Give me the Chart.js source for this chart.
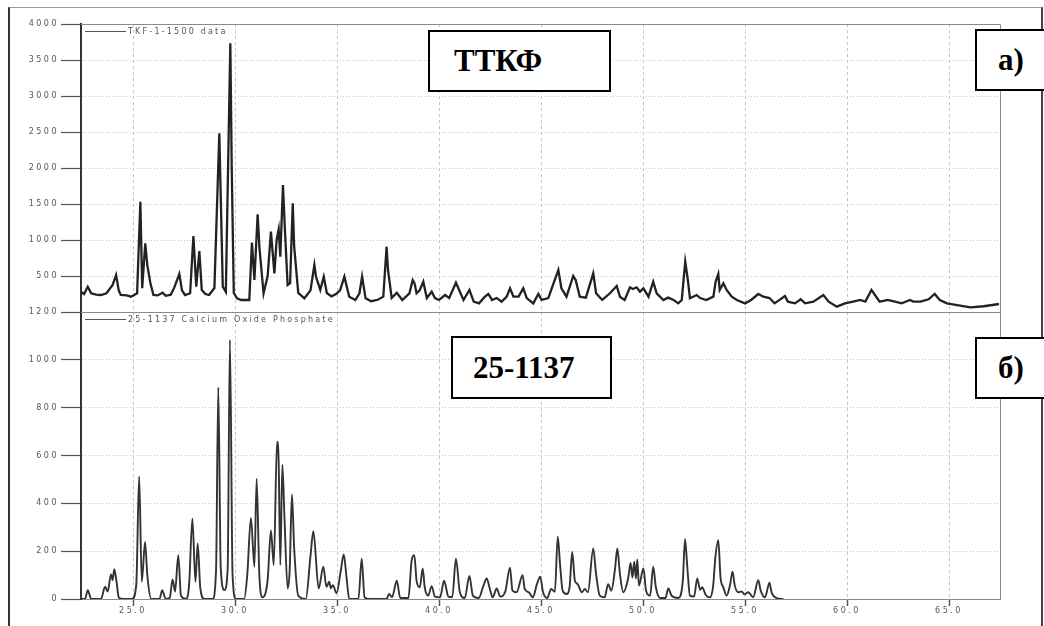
<!DOCTYPE html>
<html>
<head>
<meta charset="utf-8">
<script src="https://cdn.jsdelivr.net/npm/chart.js@4.4.1/dist/chart.umd.min.js"></script>
<style>
  body { margin: 0; background: #fff; }
  #hoja { position: relative; width: 1044px; height: 626px; overflow: hidden; background: #fff; }
  #marco { position: absolute; left: 8px; top: 7px; width: 1031px; height: 700px;
           border-left: 2px solid #333; border-top: 1px solid #999; border-right: 2px solid #444; }
  canvas { position: absolute; left: 0; }
  #top { top: 0; }
  #bot { top: 300px; }
  .caja { position: absolute; background: #fff; border: 2px solid #000; box-sizing: border-box;
          font-family: "Liberation Serif", "Times New Roman", serif; font-weight: bold;
          font-size: 31px; color: #000; display: flex; align-items: center; }
</style>
</head>
<body>
<div id="hoja">
  <div id="marco"></div>
  <canvas id="top" width="1044" height="330"></canvas>
  <canvas id="bot" width="1044" height="326"></canvas>
  <div class="caja" style="left:428px;top:30px;width:183px;height:62px;padding-left:24px">ТТКФ</div>
  <div class="caja" style="left:975px;top:29px;width:90px;height:62px;padding-left:21px">а)</div>
  <div class="caja" style="left:451px;top:336px;width:161px;height:63px;padding-left:20px">25-1137</div>
  <div class="caja" style="left:975px;top:337px;width:90px;height:62px;padding-left:21px">б)</div>
</div>
<script>
// 2theta range and ticks
const X_MIN = 22.45;
const X_MAX = 67.5;
const xTicks = [25, 30, 35, 40, 45, 50, 55, 60, 65];
const topTicks = [500, 1000, 1500, 2000, 2500, 3000, 3500, 4000];
const refTicks = [0, 200, 400, 600, 800, 1000, 1200];

const topAngle = [22.45, 22.6, 22.78, 22.95, 23.2, 23.43, 23.7, 24.0, 24.17, 24.3, 24.4, 24.7, 24.9, 25.2, 25.36, 25.45, 25.6, 25.7, 25.85, 26.0,
  26.2, 26.45, 26.6, 26.85, 27.02, 27.27, 27.4, 27.55, 27.8, 27.96, 28.1, 28.25, 28.37, 28.55, 28.73, 28.99, 29.23, 29.4, 29.55, 29.77,
  29.84, 29.94, 30.1, 30.3, 30.7, 30.83, 30.95, 31.11, 31.2, 31.4, 31.6, 31.76, 31.93, 32.04, 32.14, 32.22, 32.35, 32.45, 32.58, 32.7,
  32.83, 32.9, 33.1, 33.4, 33.7, 33.89, 33.97, 34.18, 34.35, 34.5, 34.73, 34.95, 35.15, 35.36, 35.6, 35.9, 36.1, 36.23, 36.4, 36.67,
  37.0, 37.27, 37.43, 37.5, 37.68, 37.93, 38.2, 38.55, 38.71, 38.8, 38.9, 39.05, 39.23, 39.4, 39.64, 39.8, 40.0, 40.3, 40.5, 40.83,
  40.95, 41.2, 41.49, 41.7, 41.96, 42.25, 42.42, 42.6, 42.83, 43.07, 43.32, 43.48, 43.65, 43.9, 44.13, 44.3, 44.62, 44.87, 45.03, 45.36,
  45.5, 45.85, 46.0, 46.25, 46.58, 46.7, 46.9, 47.2, 47.56, 47.7, 48.0, 48.38, 48.71, 48.87, 49.1, 49.36, 49.5, 49.69, 49.85, 50.02,
  50.27, 50.5, 50.67, 51.0, 51.23, 51.5, 51.73, 51.9, 52.07, 52.2, 52.3, 52.63, 52.8, 53.1, 53.45, 53.56, 53.69, 53.76, 53.94, 54.1,
  54.35, 54.6, 55.0, 55.3, 55.65, 55.9, 56.2, 56.45, 56.96, 57.1, 57.45, 57.73, 57.95, 58.35, 58.84, 59.1, 59.5, 59.9, 60.3, 60.65,
  60.9, 61.2, 61.37, 61.6, 62.0, 62.35, 62.68, 63.09, 63.25, 63.6, 64.0, 64.3, 64.55, 64.9, 65.4, 66.05, 66.7, 67.45];
const topCounts = [280, 250, 350, 260, 240, 236, 260, 375, 514, 300, 236, 230, 213, 260, 1532, 330, 954, 650, 403, 236,
  230, 268, 225, 240, 338, 528, 300, 236, 260, 1056, 351, 847, 306, 250, 236, 333, 2482, 351, 280, 3732,
  1972, 264, 190, 167, 167, 963, 444, 1357, 884, 260, 500, 1116, 537, 1000, 1148, 768, 1764, 1116, 375, 400,
  1509, 907, 264, 190, 300, 653, 491, 306, 491, 264, 217, 250, 300, 491, 213, 167, 260, 491, 190, 150,
  170, 213, 907, 583, 194, 268, 167, 260, 444, 398, 260, 300, 421, 194, 282, 194, 167, 236, 194, 407,
  330, 167, 306, 144, 120, 213, 250, 167, 194, 144, 213, 329, 213, 213, 329, 194, 120, 250, 167, 194,
  306, 583, 329, 213, 500, 444, 213, 200, 537, 260, 167, 260, 361, 213, 167, 343, 320, 343, 282, 329,
  213, 421, 260, 167, 200, 167, 120, 167, 699, 444, 190, 236, 194, 167, 213, 421, 528, 306, 398, 306,
  213, 167, 120, 167, 250, 213, 194, 120, 222, 144, 120, 176, 120, 144, 236, 144, 74, 120, 144, 167,
  144, 306, 236, 144, 167, 144, 120, 167, 144, 144, 176, 250, 167, 120, 97, 65, 80, 111];

// reference card 25-1137 Calcium Oxide Phosphate
const refAngle = [22.45, 22.65, 22.78, 22.95, 23.43, 23.63, 23.76, 23.92, 24.0, 24.08, 24.2, 24.3, 24.5, 24.95, 25.16, 25.3, 25.43, 25.59, 25.7, 25.9,
  26.3, 26.43, 26.6, 26.8, 26.94, 27.06, 27.22, 27.35, 27.6, 27.75, 27.91, 28.06, 28.17, 28.3, 28.5, 28.9, 29.07, 29.18, 29.3, 29.48,
  29.64, 29.75, 29.88, 30.05, 30.45, 30.6, 30.78, 30.95, 31.06, 31.19, 31.35, 31.6, 31.76, 31.9, 32.06, 32.14, 32.22, 32.32, 32.42, 32.58,
  32.68, 32.79, 32.9, 33.1, 33.47, 33.7, 33.84, 34.1, 34.33, 34.48, 34.62, 34.7, 34.8, 34.98, 35.17, 35.33, 35.46, 35.6, 36.05, 36.21,
  36.35, 36.6, 37.43, 37.55, 37.7, 37.93, 38.1, 38.5, 38.66, 38.79, 38.9, 39.06, 39.2, 39.3, 39.47, 39.64, 39.8, 40.05, 40.25, 40.46,
  40.65, 40.83, 41.02, 41.26, 41.49, 41.66, 41.94, 42.18, 42.34, 42.47, 42.63, 42.83, 43.0, 43.25, 43.48, 43.6, 43.8, 44.1, 44.2, 44.4,
  44.6, 44.8, 44.96, 45.1, 45.3, 45.5, 45.68, 45.82, 45.93, 46.06, 46.25, 46.4, 46.53, 46.66, 46.8, 47.0, 47.15, 47.3, 47.56, 47.7,
  47.88, 48.12, 48.29, 48.45, 48.63, 48.74, 48.87, 49.03, 49.28, 49.39, 49.48, 49.57, 49.65, 49.72, 49.8, 50.02, 50.15, 50.35, 50.5, 50.63,
  50.84, 51.1, 51.24, 51.4, 51.73, 51.95, 52.06, 52.17, 52.3, 52.5, 52.66, 52.8, 52.9, 53.07, 53.27, 53.43, 53.55, 53.69, 53.8, 53.94,
  54.1, 54.26, 54.39, 54.5, 54.67, 54.83, 54.97, 55.16, 55.4, 55.65, 55.77, 55.98, 56.2, 56.3, 56.55, 56.88];
const refCounts = [0, 0, 37, 0, 0, 51, 31, 103, 79, 125, 67, 7, 0, 0, 60, 512, 72, 239, 100, 0,
  0, 37, 0, 5, 82, 31, 183, 14, 0, 60, 336, 72, 232, 44, 0, 0, 120, 885, 130, 37,
  128, 1083, 100, 0, 0, 100, 339, 135, 503, 104, 7, 80, 287, 142, 658, 572, 142, 562, 350, 44,
  120, 437, 211, 14, 0, 180, 283, 44, 135, 51, 72, 45, 58, 24, 110, 186, 96, 0, 0, 169,
  7, 0, 0, 21, 8, 76, 4, 4, 162, 183, 76, 49, 128, 49, 14, 54, 10, 7, 76, 10,
  8, 169, 28, 4, 96, 14, 4, 56, 86, 49, 7, 44, 10, 32, 131, 35, 28, 100, 42, 28,
  7, 62, 93, 28, 4, 42, 30, 260, 149, 35, 21, 49, 197, 76, 62, 28, 42, 28, 211, 104,
  14, 7, 62, 35, 128, 211, 104, 28, 90, 151, 90, 156, 85, 165, 56, 128, 35, 14, 135, 49,
  4, 4, 44, 14, 4, 76, 250, 135, 14, 10, 86, 38, 49, 18, 7, 49, 176, 246, 90, 49,
  14, 56, 114, 56, 28, 32, 20, 28, 7, 79, 35, 7, 68, 28, 4, 0];

const fuente = { family: 'DejaVu Sans', size: 8 };
const gris = '#555';

// wide, spaced-out lettering like the diffractometer printout
const espaciado = {
  id: 'espaciado',
  beforeDraw(chart) { chart.ctx.letterSpacing = '2.5px'; }
};

// thin frame on top and right of the plot + small legend line
const marcoPlot = {
  id: 'marcoPlot',
  afterDatasetsDraw(chart) {
    const { ctx, chartArea: a } = chart;
    ctx.save();
    ctx.strokeStyle = '#8a8a8a';
    ctx.lineWidth = 1;
    ctx.beginPath();
    ctx.moveTo(a.left, a.top + 0.5);
    ctx.lineTo(a.right + 0.5, a.top + 0.5);
    ctx.lineTo(a.right + 0.5, a.bottom);
    ctx.stroke();

    const ly = a.top + 7.5;
    ctx.strokeStyle = gris;
    ctx.beginPath();
    ctx.moveTo(a.left + 4, ly);
    ctx.lineTo(a.left + 45, ly);
    ctx.stroke();
    ctx.letterSpacing = '2.2px';
    ctx.font = '8px "DejaVu Sans"';
    ctx.fillStyle = gris;
    ctx.textBaseline = 'middle';
    ctx.fillText(chart.data.datasets[0].label, a.left + 47, ly);
    ctx.restore();
  }
};

const ejeX = (conEtiquetas) => ({
  type: 'linear',
  min: X_MIN,
  max: X_MAX,
  afterBuildTicks: (s) => { s.ticks = xTicks.map(v => ({ value: v })); },
  afterFit: (s) => { s.height = conEtiquetas ? 27 : 0; },
  grid: { color: '#c4c4c4', drawTicks: conEtiquetas, tickLength: 7, tickColor: gris, tickWidth: 1.5 },
  border: { display: true, color: '#8a8a8a', width: 1, dash: [3, 3] },
  ticks: { display: conEtiquetas, padding: 0, color: gris, font: fuente, maxRotation: 0, autoSkip: false,
           callback: (v) => v.toFixed(1) }
});

const ejeY = (max, ticks) => ({
  min: 0,
  max: max,
  afterBuildTicks: (s) => { s.ticks = ticks.map(v => ({ value: v })); },
  afterFit: (s) => { s.width = 81; },
  grid: { color: '#c4c4c4', tickLength: 20, tickColor: gris, tickWidth: 1.2 },
  border: { display: true, color: '#333', width: 2, dash: [1, 2] },
  ticks: { padding: 2, color: gris, font: fuente, callback: (v) => String(v) }
});

const opciones = (max, ticks, conEtiquetas, padding) => ({
  responsive: false,
  animation: false,
  layout: { padding: padding },
  plugins: { legend: { display: false }, tooltip: { enabled: false } },
  scales: { x: ejeX(conEtiquetas), y: ejeY(max, ticks) }
});

new Chart(document.getElementById('top'), {
  type: 'line',
  data: {
    datasets: [{
      label: 'TKF-1-1500 data',
      data: topAngle.map((a, i) => ({ x: a, y: topCounts[i] })),
      borderColor: '#222',
      borderWidth: 2.3,
      pointRadius: 0,
      tension: 0
    }]
  },
  options: opciones(4000, topTicks, false, { top: 24, right: 44, bottom: 18, left: 0 }),
  plugins: [espaciado, marcoPlot]
});

new Chart(document.getElementById('bot'), {
  type: 'line',
  data: {
    datasets: [{
      label: '25-1137 Calcium Oxide Phosphate',
      data: refAngle.map((a, i) => ({ x: a, y: refCounts[i] })),
      borderColor: '#333',
      borderWidth: 1.9,
      pointRadius: 0,
      cubicInterpolationMode: 'monotone'
    }]
  },
  options: opciones(1200, refTicks, true, { top: 12, right: 44, bottom: 0, left: 0 }),
  plugins: [espaciado, marcoPlot]
});
</script>
</body>
</html>
